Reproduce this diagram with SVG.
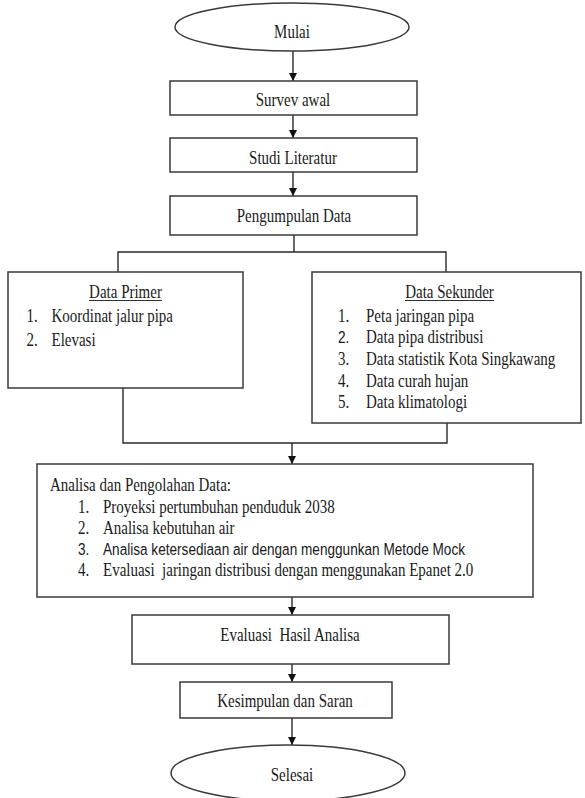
<svg xmlns="http://www.w3.org/2000/svg" width="585" height="798" viewBox="0 0 585 798">
<defs>
<marker id="ah" viewBox="0 0 10 10" refX="10" refY="5" markerWidth="8" markerHeight="8" markerUnits="userSpaceOnUse" orient="auto">
<path d="M0,0 L10,5 L0,10 z" fill="#111"/>
</marker>
<style>
.box{fill:#fff;stroke:#3a3a3a;stroke-width:1.5}
.ln{fill:none;stroke:#2a2a2a;stroke-width:1.4}
.t{font-family:"Liberation Serif","Times New Roman",serif;font-size:15px;fill:#1a1a1a}
.c{text-anchor:middle}
.s{font-family:"Liberation Sans",Arial,sans-serif;font-size:13.6px;fill:#1a1a1a}
.ul{stroke:#1a1a1a;stroke-width:0.9}
</style>
</defs>
<rect width="585" height="798" fill="#fff"/>
<g id="connectors">
<path class="ln" d="M293,51 V81" marker-end="url(#ah)"/>
<path class="ln" d="M293,115 V138" marker-end="url(#ah)"/>
<path class="ln" d="M293,172 V196" marker-end="url(#ah)"/>
<path class="ln" d="M294,235 V252 M118,272 V252 H446 V272"/>
<path class="ln" d="M123,388 V443 H447 V423"/>
<path class="ln" d="M292,443 V464" marker-end="url(#ah)"/>
<path class="ln" d="M292,597 V615" marker-end="url(#ah)"/>
<path class="ln" d="M292,664 V682" marker-end="url(#ah)"/>
<path class="ln" d="M292,718 V745" marker-end="url(#ah)"/>
</g>
<g id="mulai">
<ellipse class="box" cx="292" cy="27" rx="117" ry="24"/>
<text class="t c" transform="translate(292,38) scale(1,1.2)">Mulai</text>
</g>
<g id="survey">
<rect class="box" x="170" y="81" width="247" height="34"/>
<text class="t c" transform="translate(293,106) scale(1,1.2)">Survev awal</text>
</g>
<g id="studi">
<rect class="box" x="170" y="138" width="247" height="34"/>
<text class="t c" transform="translate(293,163.5) scale(1,1.2)">Studi Literatur</text>
</g>
<g id="pengumpulan">
<rect class="box" x="170" y="196" width="247" height="39"/>
<text class="t c" transform="translate(294,221.5) scale(1,1.2)">Pengumpulan Data</text>
</g>
<g id="primer">
<rect class="box" x="8" y="272" width="235" height="116"/>
<text class="t c" transform="translate(125.5,298) scale(1,1.2)">Data Primer</text>
<line class="ul" x1="89" y1="300.5" x2="162" y2="300.5"/>
<text class="t" transform="translate(26.5,321.5) scale(1,1.2)">1.</text>
<text class="t" transform="translate(51.5,321.5) scale(1,1.2)">Koordinat jalur pipa</text>
<text class="t" transform="translate(26.5,346) scale(1,1.2)">2.</text>
<text class="t" transform="translate(51.5,346) scale(1,1.2)">Elevasi</text>
</g>
<g id="sekunder">
<rect class="box" x="312" y="272" width="269" height="151"/>
<text class="t c" transform="translate(449.5,298) scale(1,1.2)">Data Sekunder</text>
<line class="ul" x1="405" y1="300.5" x2="494" y2="300.5"/>
<text class="t" transform="translate(338,321.5) scale(1,1.2)">1.</text>
<text class="t" transform="translate(366,321.5) scale(1,1.2)">Peta jaringan pipa</text>
<text class="s" transform="translate(338,343) scale(1,1.2)">2.</text>
<text class="t" transform="translate(366,343) scale(1,1.2)">Data pipa distribusi</text>
<text class="t" transform="translate(338,365) scale(1,1.2)">3.</text>
<text class="t" transform="translate(366,365) scale(1,1.2)">Data statistik Kota Singkawang</text>
<text class="t" transform="translate(338,386.5) scale(1,1.2)">4.</text>
<text class="t" transform="translate(366,386.5) scale(1,1.2)">Data curah hujan</text>
<text class="t" transform="translate(338,408) scale(1,1.2)">5.</text>
<text class="t" transform="translate(366,408) scale(1,1.2)">Data klimatologi</text>
</g>
<g id="analisa">
<rect class="box" x="37" y="464" width="496" height="133"/>
<text class="t" transform="translate(50,491) scale(1,1.2)">Analisa dan Pengolahan Data:</text>
<text class="t" transform="translate(78,512.5) scale(1,1.2)">1.</text>
<text class="t" transform="translate(103,512.5) scale(1,1.2)">Proyeksi pertumbuhan penduduk 2038</text>
<text class="t" transform="translate(78,533.5) scale(1,1.2)">2.</text>
<text class="t" transform="translate(103,533.5) scale(1,1.2)">Analisa kebutuhan air</text>
<text class="s" transform="translate(78,555) scale(1,1.2)">3.</text>
<text class="s" transform="translate(103,555) scale(1,1.2)">Analisa ketersediaan air dengan menggunkan Metode Mock</text>
<text class="t" transform="translate(78,576) scale(1,1.2)">4.</text>
<text class="t" xml:space="preserve" transform="translate(103,576) scale(1,1.2)">Evaluasi  jaringan distribusi dengan menggunakan Epanet 2.0</text>
</g>
<g id="evaluasi">
<rect class="box" x="132" y="615" width="317" height="49"/>
<text class="t c" xml:space="preserve" transform="translate(290,640.5) scale(1,1.2)">Evaluasi  Hasil Analisa</text>
</g>
<g id="kesimpulan">
<rect class="box" x="180" y="682" width="212" height="36"/>
<text class="t c" transform="translate(285,707) scale(1,1.2)">Kesimpulan dan Saran</text>
</g>
<g id="selesai">
<ellipse class="box" cx="288" cy="773" rx="117" ry="28"/>
<text class="t c" transform="translate(292,781) scale(1,1.2)">Selesai</text>
</g>
</svg>
